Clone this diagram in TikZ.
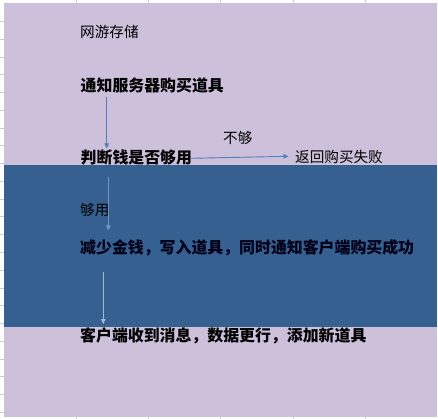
\documentclass[tikz,border=0pt]{standalone}
\usepackage{fontspec}
\setmainfont{Noto Sans CJK SC}
\usetikzlibrary{arrows.meta,calc}
\definecolor{bgpurple}{HTML}{CCC0DA}
\definecolor{band}{HTML}{35608F}
\definecolor{arrblue}{HTML}{4F81BD}
\definecolor{arrmid}{HTML}{7393C6}
\definecolor{arrlight}{HTML}{A3B7DA}
\definecolor{gridc}{HTML}{C8CCD8}
\tikzset{
  reg/.style={anchor=west,inner sep=0pt,font=\fontsize{14.6}{16}\selectfont},
  bld/.style={anchor=west,inner sep=0pt,font=\fontsize{15.9}{17}\selectfont\bfseries},
  arr/.style={line width=0.9pt,-{Triangle[length=5pt,width=4.5pt]}},
}
\begin{document}
\begin{tikzpicture}[x=1pt,y=-1pt]
\useasboundingbox (0,0) rectangle (438,419);
\fill[white] (0,0) rectangle (438,419);
% spreadsheet grid ticks
\foreach \x in {76,148,220,293,365}{
  \draw[gridc,line width=0.6pt] (\x,0) -- (\x,3);
  \draw[gridc,line width=0.6pt] (\x,416.5) -- (\x,419);
}
\foreach \y in {21.5,39.3,57,74.8,92.5,110.3,128,145.8,163.5,181.3,199,216.8,234.5,252.3,270,287.8,305.5,323.3,341,358.8,376.5,394.3,412}{
  \draw[gridc,line width=0.6pt] (0,\y) -- (4,\y);
}
\fill[bgpurple] (4,3) rectangle (436.5,416.5);
\fill[band] (4,165) rectangle (436.5,326.7);
% texts
\node[reg] (t0) at (80,32.3) {网游存储};
\node[bld] (n1) at (80.5,85) {通知服务器购买道具};
\node[bld] (n2) at (80.5,157.3) {判断钱是否够用};
\node[reg] (l1) at (223,137.7) {不够};
\node[reg] (n3) at (295,157.3) {返回购买失败};
\node[reg] (l2) at (80,210) {够用};
\node[bld,text=black!90!blue] (n4) at (80,247.3) {减少金钱，写入道具，同时通知客户端购买成功};
\node[bld] (n5) at (80,336) {客户端收到消息，数据更行，添加新道具};
% connectors
\coordinate (a1s) at (106.7,96.7);
\coordinate (a1e) at (106.7,148.5);
\coordinate (a2s) at (108.3,176.7);
\coordinate (a2e) at (108.3,230.5);
\coordinate (a3s) at (103.3,271.7);
\coordinate (a3e) at (103.3,324);
\draw[arr,arrblue] (a1s) -- (a1e);
\draw[arr,arrblue] (n2.east) ++(-1.5,1) -- ([xshift=-6.5pt,yshift=1pt]n3.west);
\draw[arr,arrmid] (a2s) -- (a2e);
\draw[arr,arrlight] (a3s) -- (a3e);
\end{tikzpicture}
\end{document}
